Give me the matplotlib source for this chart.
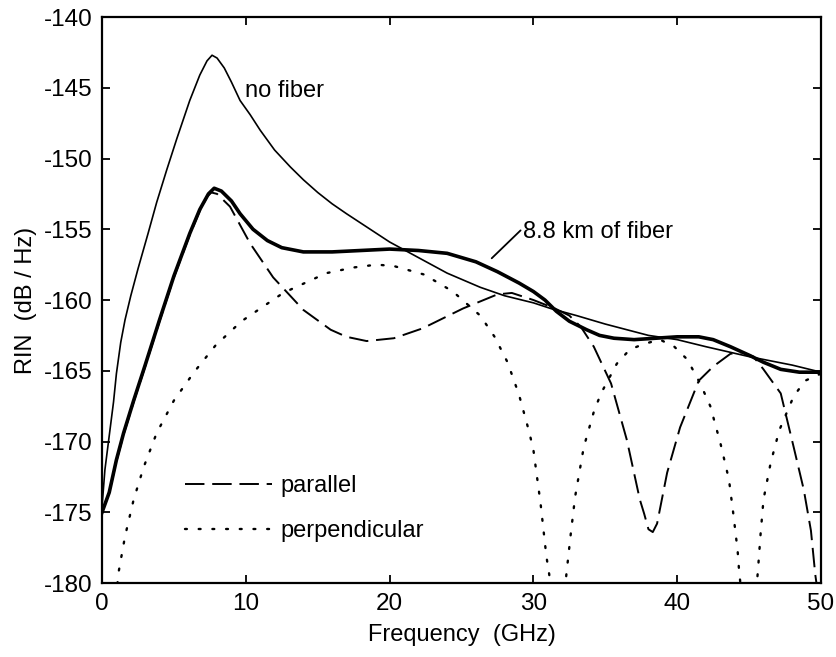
import matplotlib
matplotlib.use("Agg")
import matplotlib.pyplot as plt
import numpy as np

plt.rcParams['font.family'] = ['Liberation Sans', 'DejaVu Sans']
plt.rcParams['axes.unicode_minus'] = False

# no fiber (thin solid)
f_nofiber = [0, 0.2, 0.5, 0.8, 1.0, 1.3, 1.6, 2.0, 2.5, 3.2, 3.8, 4.5, 5.2, 6.1, 6.8, 7.3, 7.65,
             8.0, 8.5, 9.0, 9.6, 10.3, 11.0, 12.0, 13.1, 14.0, 15.0, 16.0, 17.0, 18.5, 20.0,
             22.0, 24.0, 26.3, 28.0, 30.0, 31.2, 33.0, 35.0, 38.0, 40.0, 42.0, 45.0, 48.0, 50.0]
rin_nofiber = [-174.6, -172.0, -169.6, -167.2, -165.2, -163.0, -161.4, -159.7, -157.8, -155.3, -153.1,
               -150.8, -148.6, -145.9, -144.1, -143.1, -142.7, -142.9, -143.6, -144.6, -145.9,
               -146.9, -148.0, -149.4, -150.6, -151.5, -152.4, -153.2, -153.9, -154.9, -155.9,
               -157.0, -158.1, -159.1, -159.7, -160.2, -160.6, -161.1, -161.7, -162.5, -162.8,
               -163.3, -164.0, -164.6, -165.1]

# 8.8 km of fiber (thick solid)
f_fiber = [0, 0.5, 1.0, 1.5, 2.2, 3.0, 4.0, 5.0, 6.1, 6.8, 7.4, 7.8, 8.3, 9.0, 9.6, 10.5, 11.5,
           12.5, 14.0, 16.0, 18.0, 20.0, 22.0, 24.0, 26.0, 27.5, 29.0, 30.0, 30.8, 31.6, 32.5,
           33.7, 34.6, 35.6, 37.0, 38.5, 40.0, 41.5, 42.5, 43.7, 45.0, 46.0, 47.2, 48.5, 50.0]
rin_fiber = [-175.0, -173.6, -171.3, -169.4, -167.1, -164.6, -161.4, -158.3, -155.3, -153.6, -152.5,
             -152.1, -152.3, -153.0, -153.9, -155.0, -155.8, -156.3, -156.6, -156.6, -156.5,
             -156.4, -156.5, -156.7, -157.3, -158.0, -158.8, -159.4, -160.0, -160.8, -161.5,
             -162.1, -162.5, -162.7, -162.8, -162.7, -162.6, -162.6, -162.8, -163.3, -163.9,
             -164.4, -164.9, -165.1, -165.1]

# parallel (dashed)
f_par = [0, 0.5, 1.0, 1.5, 2.2, 3.0, 4.0, 5.0, 6.1, 6.8, 7.3, 7.6, 8.0, 8.9, 10.3, 11.9, 14.0,
         15.9, 17.0, 18.4, 20.3, 22.3, 25.1, 27.5, 28.5, 30.0, 31.5, 32.5, 33.3, 34.2, 35.4,
         36.5, 37.4, 37.7, 38.0, 38.3, 38.6, 39.3, 40.2, 41.5, 42.5, 43.7, 44.5, 45.3, 46.0,
         47.2, 48.1, 48.8, 49.3, 49.6, 49.75]
rin_par = [-175.0, -173.6, -171.4, -169.5, -167.2, -164.7, -161.5, -158.4, -155.4, -153.7, -152.7,
           -152.4, -152.5, -153.4, -156.0, -158.4, -160.7, -162.1, -162.6, -162.9, -162.7, -162.0,
           -160.6, -159.6, -159.5, -160.0, -160.6, -161.1, -161.9, -163.3, -165.9, -169.9, -174.1,
           -175.1, -176.2, -176.4, -175.8, -172.2, -169.0, -165.7, -164.7, -163.8, -163.7, -164.0,
           -164.9, -166.6, -170.4, -173.4, -176.3, -179.4, -180.5]

# perpendicular (dotted)
f_perp = [0.9, 1.14, 1.6, 2.2, 2.9, 3.8, 5.0, 6.4, 7.9, 9.7, 12.6, 15.6, 17.5, 19.1, 20.3, 22.4,
          24.4, 26.3, 27.3, 28.2, 29.0, 29.7, 30.0, 30.5, 30.9, 31.1, 31.7, 32.3, 32.6, 32.9,
          33.5, 34.2, 34.7, 35.8, 36.7, 37.7, 38.8, 39.8, 40.7, 41.6, 42.3, 43.0, 43.6, 43.9,
          44.2, 44.3, 45.0, 45.6, 45.8, 46.0, 46.5, 47.1, 48.1, 48.9, 50.0]
rin_perp = [-182.0, -179.3, -176.7, -174.1, -171.8, -169.4, -167.1, -165.1, -163.2, -161.5, -159.5,
            -158.1, -157.7, -157.5, -157.6, -158.2, -159.4, -161.1, -162.6, -164.4, -166.7, -169.3,
            -170.6, -174.4, -178.1, -179.4, -186.0, -179.3, -176.5, -173.9, -170.4, -167.9, -166.6,
            -164.5, -163.5, -163.1, -162.8, -163.3, -164.2, -165.9, -167.5, -170.1, -172.7, -175.1,
            -177.7, -179.1, -186.0, -179.3, -176.5, -174.1, -171.5, -169.2, -166.8, -165.7, -165.2]

fig = plt.figure(figsize=(8.37, 6.57), dpi=100)
ax = fig.add_axes([0.1219, 0.1126, 0.859, 0.8615])

ax.plot(f_nofiber, rin_nofiber, color='black', lw=1.2)
ax.plot(f_fiber, rin_fiber, color='black', lw=2.6)
ax.plot(f_par, rin_par, color='black', lw=1.4, linestyle=(0, (10, 4)), label='parallel')
ax.plot(f_perp, rin_perp, color='black', lw=1.7, linestyle=(0, (0.8, 5)),
        dash_capstyle='round', label='perpendicular')

ax.set_xlim(0, 50)
ax.set_ylim(-180, -140)
ax.set_xticks(np.arange(0, 51, 10))
ax.set_yticks(np.arange(-180, -139, 5))
ax.tick_params(direction='in', length=6, width=1.3, top=True, right=True,
               labelsize=17.5, pad=7)
for sp in ax.spines.values():
    sp.set_linewidth(1.6)

ax.set_xlabel('Frequency  (GHz)', fontsize=17, labelpad=7)
ax.set_ylabel('RIN  (dB / Hz)', fontsize=17, labelpad=5)

ax.text(9.95, -145.2, 'no fiber', fontsize=17, va='center')
ax.annotate('8.8 km of fiber', xy=(27.1, -157.05), xytext=(29.3, -155.2),
            fontsize=17, va='center',
            arrowprops=dict(arrowstyle='-', lw=1.3, color='black',
                            relpos=(0, 0.7), shrinkA=0, shrinkB=0))

ax.legend(loc='upper left', bbox_to_anchor=(0.115, 0.19), frameon=False, fontsize=17,
          handlelength=3.7, handletextpad=0.35, labelspacing=0.95, borderpad=0,
          borderaxespad=0)

fig.savefig('out.png', dpi=100)
